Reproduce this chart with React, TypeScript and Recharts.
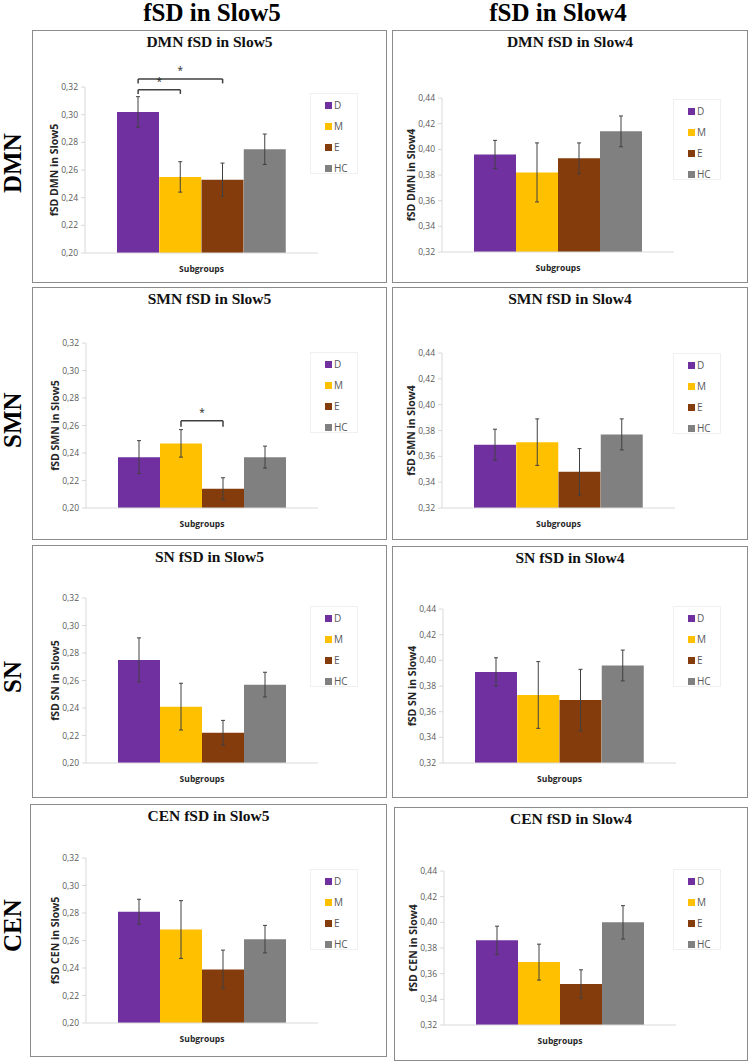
import React from 'react'
import { BarChart, Bar, Cell, XAxis, YAxis, ErrorBar, ReferenceLine } from 'recharts'

const groups = ['D', 'M', 'E', 'HC']
const groupColors = ['#7030a0', '#ffc000', '#843c0c', '#808080']
const networkNames = ['DMN', 'SMN', 'SN', 'CEN']
const bandNames = ['Slow5', 'Slow4']
const slow5Ticks = [0.2, 0.22, 0.24, 0.26, 0.28, 0.3, 0.32]
const slow4Ticks = [0.32, 0.34, 0.36, 0.38, 0.4, 0.42, 0.44]

const dmnSlow5 = [0.302, 0.255, 0.253, 0.275]
const dmnSlow5Err = [0.011, 0.011, 0.012, 0.011]
const dmnSlow4 = [0.396, 0.382, 0.393, 0.414]
const dmnSlow4Err = [0.011, 0.023, 0.012, 0.012]
const smnSlow5 = [0.237, 0.247, 0.214, 0.237]
const smnSlow5Err = [0.012, 0.01, 0.008, 0.008]
const smnSlow4 = [0.369, 0.371, 0.348, 0.377]
const smnSlow4Err = [0.012, 0.018, 0.018, 0.012]
const snSlow5 = [0.275, 0.241, 0.222, 0.257]
const snSlow5Err = [0.016, 0.017, 0.009, 0.009]
const snSlow4 = [0.391, 0.373, 0.369, 0.396]
const snSlow4Err = [0.011, 0.026, 0.024, 0.012]
const cenSlow5 = [0.281, 0.268, 0.239, 0.261]
const cenSlow5Err = [0.009, 0.021, 0.014, 0.01]
const cenSlow4 = [0.386, 0.369, 0.352, 0.4]
const cenSlow4Err = [0.011, 0.014, 0.011, 0.013]

// significance brackets: from / to group, height of the bar, length of the end ticks
const dmnSlow5Brackets = [
  { from: 'D', to: 'M', level: 0.318, drop: 0.003 },
  { from: 'D', to: 'E', level: 0.3258, drop: 0.0032 },
]
const smnSlow5Brackets = [{ from: 'M', to: 'E', level: 0.2635, drop: 0.0044 }]

type Bracket = { from: string; to: string; level: number; drop: number }

const seriesByPanel = [
  [dmnSlow5, dmnSlow5Err, dmnSlow5Brackets],
  [dmnSlow4, dmnSlow4Err, []],
  [smnSlow5, smnSlow5Err, smnSlow5Brackets],
  [smnSlow4, smnSlow4Err, []],
  [snSlow5, snSlow5Err, []],
  [snSlow4, snSlow4Err, []],
  [cenSlow5, cenSlow5Err, []],
  [cenSlow4, cenSlow4Err, []],
] as [number[], number[], Bracket[]][]

// frame and plot placement on the page
const boxes = [
  { left: 32, top: 30, width: 355, height: 253, plotLeft: 85, plotTop: 87, plotRight: 318, plotBottom: 253, legendLeft: 310, legendTop: 93 },
  { left: 392, top: 30, width: 356, height: 253, plotLeft: 442, plotTop: 98, plotRight: 674, plotBottom: 252, legendLeft: 673, legendTop: 99 },
  { left: 32, top: 287, width: 355, height: 253, plotLeft: 86, plotTop: 343, plotRight: 318, plotBottom: 508, legendLeft: 310, legendTop: 352 },
  { left: 392, top: 287, width: 356, height: 253, plotLeft: 442, plotTop: 353, plotRight: 675, plotBottom: 508, legendLeft: 673, legendTop: 353 },
  { left: 32, top: 545, width: 355, height: 253, plotLeft: 86, plotTop: 598, plotRight: 318, plotBottom: 763, legendLeft: 310, legendTop: 606 },
  { left: 392, top: 546, width: 356, height: 252, plotLeft: 443, plotTop: 609, plotRight: 676, plotBottom: 763, legendLeft: 673, legendTop: 606 },
  { left: 30, top: 804, width: 357, height: 253, plotLeft: 86, plotTop: 858, plotRight: 318, plotBottom: 1023, legendLeft: 310, legendTop: 869 },
  { left: 394, top: 807, width: 354, height: 254, plotLeft: 444, plotTop: 871, plotRight: 676, plotBottom: 1025, legendLeft: 673, legendTop: 869 },
]

const rowLabelY = [163, 420, 677, 926]
const colHeaderX = [212, 558]

const Y_W = 45
const X_H = 22
const sans = '"Open Sans", "Noto Sans", sans-serif'
const serif = '"Liberation Serif", "DejaVu Serif", serif'

const fmt = (v: number) => v.toFixed(2).replace('.', ',')

function Panel({ index }: { index: number }) {
  const box = boxes[index]
  const network = networkNames[Math.floor(index / 2)]
  const band = bandNames[index % 2]
  const ticks = index % 2 === 0 ? slow5Ticks : slow4Ticks
  const [values, errs, brackets] = seriesByPanel[index]
  const data = groups.map((g, i) => ({ group: g, value: values[i], err: errs[i] }))

  const margin = {
    top: box.plotTop - box.top,
    left: box.plotLeft - box.left - Y_W,
    right: box.left + box.width - box.plotRight,
    bottom: box.top + box.height - box.plotBottom - X_H,
  }

  return (
    <>
      <div
        style={{
          position: 'absolute',
          left: box.left,
          top: box.top,
          width: box.width,
          height: box.height,
          border: '1.5px solid #8c8c8c',
          boxSizing: 'border-box',
        }}
      />
      <div
        style={{
          position: 'absolute',
          left: box.left,
          top: box.top + 3,
          width: box.width,
          textAlign: 'center',
          fontFamily: serif,
          fontWeight: 'bold',
          fontSize: 15.5,
          color: '#111',
        }}
      >
        {network} fSD in {band}
      </div>
      <div style={{ position: 'absolute', left: box.left, top: box.top }}>
        <BarChart width={box.width} height={box.height} data={data} margin={margin} barCategoryGap={0}>
          <XAxis
            dataKey="group"
            tick={false}
            tickLine={false}
            axisLine={{ stroke: '#d9d9d9' }}
            padding={{ left: 32, right: 32 }}
            height={X_H}
            label={{ value: 'Subgroups', position: 'insideBottom', offset: 3, fill: '#262626', fontSize: 8.5, fontWeight: 'bold', fontFamily: sans }}
          />
          <YAxis
            domain={[ticks[0], ticks[ticks.length - 1]]}
            ticks={ticks}
            tickFormatter={fmt}
            width={Y_W}
            tickSize={4}
            tickMargin={3}
            axisLine={{ stroke: '#d9d9d9' }}
            tickLine={{ stroke: '#d9d9d9' }}
            tick={{ fill: '#595959', fontSize: 8.5, fontFamily: sans }}
            label={{
              value: `fSD ${network} in ${band}`,
              angle: -90,
              position: 'insideLeft',
              offset: Y_W - 31,
              style: { textAnchor: 'middle' },
              fill: '#262626',
              fontSize: 10.5,
              fontWeight: 'bold',
              fontFamily: sans,
            }}
          />
          <Bar dataKey="value" isAnimationActive={false}>
            {data.map((d, i) => (
              <Cell key={d.group} fill={groupColors[i]} />
            ))}
            <ErrorBar dataKey="err" width={2} stroke="#404040" strokeWidth={1} isAnimationActive={false} />
          </Bar>
          {brackets.map((b, i) => (
            <ReferenceLine
              key={'h' + i}
              segment={[{ x: b.from, y: b.level }, { x: b.to, y: b.level }]}
              stroke="#404040"
              strokeWidth={1.5}
              ifOverflow="visible"
              label={{ value: '*', position: 'top', fill: '#262626', fontSize: 10, fontFamily: sans }}
            />
          ))}
          {brackets.map((b, i) => (
            <ReferenceLine
              key={'l' + i}
              segment={[{ x: b.from, y: b.level }, { x: b.from, y: b.level - b.drop }]}
              stroke="#404040"
              strokeWidth={1.5}
              ifOverflow="visible"
            />
          ))}
          {brackets.map((b, i) => (
            <ReferenceLine
              key={'r' + i}
              segment={[{ x: b.to, y: b.level }, { x: b.to, y: b.level - b.drop }]}
              stroke="#404040"
              strokeWidth={1.5}
              ifOverflow="visible"
            />
          ))}
        </BarChart>
      </div>
      <div
        style={{
          position: 'absolute',
          left: box.legendLeft,
          top: box.legendTop,
          width: 48,
          height: 81,
          border: '1px solid #f0f0f0',
          boxSizing: 'border-box',
          fontFamily: sans,
          fontSize: 10,
          color: '#595959',
        }}
      >
        {groups.map((g, i) => (
          <div
            key={g}
            style={{ position: 'absolute', left: 14, top: 4 + i * 21, height: 14, display: 'flex', alignItems: 'center' }}
          >
            <span style={{ display: 'inline-block', width: 7, height: 7, background: groupColors[i], marginRight: 2 }} />
            <span>{g}</span>
          </div>
        ))}
      </div>
    </>
  )
}

export default function App() {
  return (
    <div style={{ position: 'absolute', left: 0, top: 0, width: 750, height: 1062, background: '#fff', overflow: 'hidden' }}>
      {bandNames.map((b, i) => (
        <div
          key={b}
          style={{
            position: 'absolute',
            left: colHeaderX[i] - 110,
            top: 0,
            width: 220,
            height: 25,
            lineHeight: '25px',
            textAlign: 'center',
            fontFamily: serif,
            fontWeight: 'bold',
            fontSize: 25,
            color: '#000',
          }}
        >
          fSD in {b}
        </div>
      ))}
      {networkNames.map((n, i) => (
        <div
          key={n}
          style={{
            position: 'absolute',
            left: 0,
            top: rowLabelY[i] - 50,
            width: 25,
            height: 100,
            lineHeight: '25px',
            textAlign: 'center',
            writingMode: 'vertical-rl',
            transform: 'rotate(180deg)',
            fontFamily: serif,
            fontWeight: 'bold',
            fontSize: 25,
            color: '#000',
          }}
        >
          {n}
        </div>
      ))}
      {boxes.map((_, i) => (
        <Panel key={i} index={i} />
      ))}
    </div>
  )
}
